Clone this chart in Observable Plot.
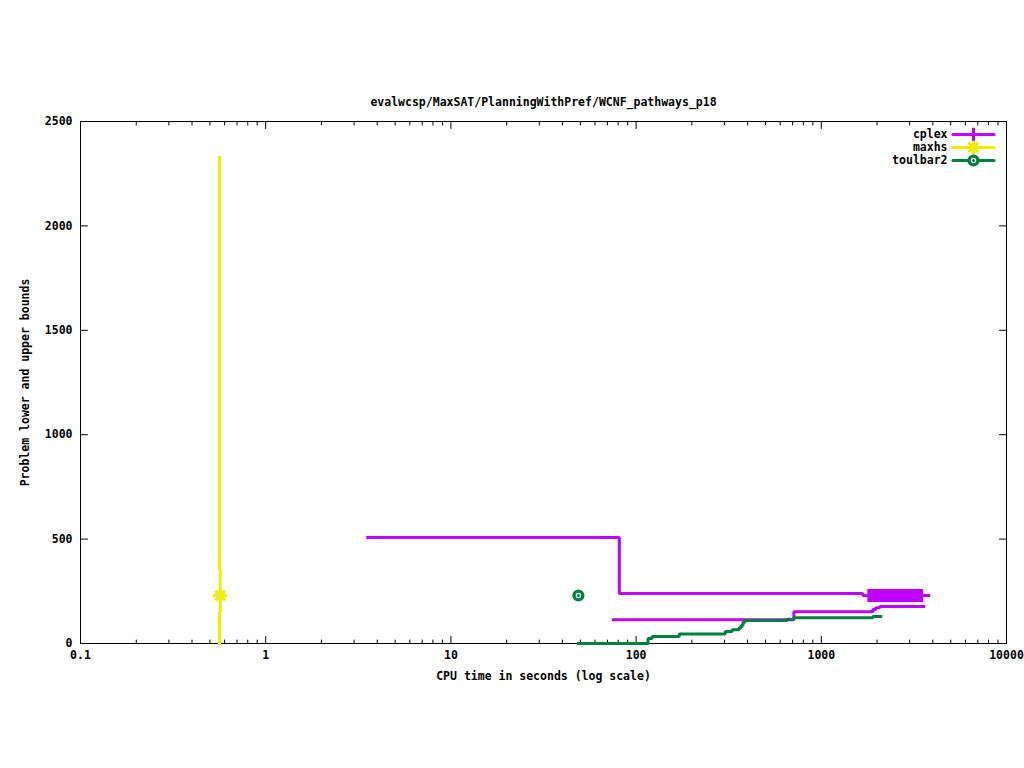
<!DOCTYPE html>
<html><head><meta charset="utf-8">
<script src="https://cdn.jsdelivr.net/npm/d3@7"></script>
<script src="https://cdn.jsdelivr.net/npm/@observablehq/plot@0.6"></script>
<style>body{margin:0;background:#fff}</style>
</head><body><div id="chart"></div>
<script>
const title = "evalwcsp/MaxSAT/PlanningWithPref/WCNF_pathways_p18";
const xLabel = "CPU time in seconds (log scale)";
const yLabel = "Problem lower and upper bounds";
const xTicks = [0.1, 1, 10, 100, 1000, 10000];
const xTickLabels = ["0.1", "1", "10", "100", "1000", "10000"];
const yTicks = [0, 500, 1000, 1500, 2000, 2500];
const yTickLabels = ["0", "500", "1000", "1500", "2000", "2500"];
const seriesNames = ["cplex", "maxhs", "toulbar2"];
const seriesColors = ["#c000ff", "#eeee00", "#008040"];
const seriesSymbols = ["plus", "star", "circle"];

// cplex
const cplexUpperTime = [3.56, 81.2, 1675, 3802];
const cplexUpperValue = [508, 240, 230, 230];
const cplexLowerTime = [75.4, 711, 1897, 1968, 2069, 3570];
const cplexLowerValue = [114, 152, 163, 171, 177, 177];
const cplexBlockTime = [1783, 3570];
const cplexBlockValue = [196, 259];
// maxhs
const maxhsUpperTime = [0.563, 0.563, 0.568];
const maxhsUpperValue = [2328, 350, 230];
const maxhsLowerTime = [0.563, 0.563, 0.568];
const maxhsLowerValue = [0, 148, 230];
const maxhsOptTime = [0.568];
const maxhsOptValue = [230];
// toulbar2
const toulbar2LowerTime = [48.8, 116, 122, 171, 303, 330, 360, 369, 378, 387, 653, 711, 1897, 2094];
const toulbar2LowerValue = [0, 24, 33, 46, 57, 66, 76, 86, 102, 110, 116, 123, 129, 129];
const toulbar2OptTime = [48.8];
const toulbar2OptValue = [230];

const zip = (t, v) => t.map((x, i) => ({t: x, v: v[i]}));

const minorX = [];
for (let e = -1; e < 4; e++) for (let k = 2; k <= 9; k++) minorX.push(k * Math.pow(10, e));

const tickShape = {draw(ctx, l) { ctx.moveTo(0, 0); ctx.lineTo(0, -l); }};
const tickMarks = (data, opts, len) => Plot.vector(data, {...opts, length: len, anchor: "start", shape: tickShape, stroke: "black", strokeWidth: 1});

const stepLine = (t, v, color) => Plot.line(zip(t, v), {x: "t", y: "v", curve: "step-after", stroke: color, strokeWidth: 3, strokeLinejoin: "miter", strokeLinecap: "square"});

const legendMarks = [];
seriesNames.forEach((n, i) => {
  const dy = 13 + 13 * i;
  legendMarks.push(Plot.text([n], {text: d => d, frameAnchor: "top-right", dx: -59, dy, textAnchor: "end", lineAnchor: "middle"}));
  legendMarks.push(Plot.vector([0], {frameAnchor: "top-right", dx: -33, dy, length: 41, rotate: 90, anchor: "middle", shape: tickShape, stroke: seriesColors[i], strokeWidth: 3}));
  if (seriesSymbols[i] === "plus") {
    legendMarks.push(Plot.dot([0], {frameAnchor: "top-right", dx: -33, dy, symbol: "plus", r: 4.5, stroke: seriesColors[i], strokeWidth: 3}));
  } else if (seriesSymbols[i] === "star") {
    legendMarks.push(Plot.dot([0], {frameAnchor: "top-right", dx: -33, dy, symbol: "plus", r: 4.5, stroke: seriesColors[i], strokeWidth: 3}));
    legendMarks.push(Plot.dot([0], {frameAnchor: "top-right", dx: -33, dy, symbol: "times", r: 4.5, stroke: seriesColors[i], strokeWidth: 3}));
  } else {
    legendMarks.push(Plot.dot([0], {frameAnchor: "top-right", dx: -33, dy, r: 4.4, fill: "white", stroke: seriesColors[i], strokeWidth: 3.4}));
    legendMarks.push(Plot.dot([0], {frameAnchor: "top-right", dx: -33, dy, r: 1.5, fill: seriesColors[i]}));
  }
});

const chart = Plot.plot({
  width: 1024,
  height: 768,
  marginLeft: 80,
  marginRight: 18,
  marginTop: 121,
  marginBottom: 125,
  style: "font: bold 11.5px 'DejaVu Sans Mono', monospace; background: white; overflow: visible;",
  x: {type: "log", domain: [0.1, 10000]},
  y: {domain: [0, 2500]},
  marks: [
    Plot.frame({stroke: "black"}),
    Plot.axisX(xTicks, {anchor: "bottom", tickSize: 0, tickPadding: 7, tickFormat: d => xTickLabels[xTicks.indexOf(d)], label: null, fill: "black"}),
    Plot.axisY(yTicks, {anchor: "left", tickSize: 0, tickPadding: 8, tickFormat: d => yTickLabels[yTicks.indexOf(d)], label: null, fill: "black"}),
    tickMarks(xTicks, {x: d => d, y: () => 0, rotate: 0}, 7),
    tickMarks(xTicks, {x: d => d, y: () => 2500, rotate: 180}, 7),
    tickMarks(minorX, {x: d => d, y: () => 0, rotate: 0}, 3.5),
    tickMarks(minorX, {x: d => d, y: () => 2500, rotate: 180}, 3.5),
    tickMarks(yTicks, {y: d => d, x: () => 0.1, rotate: 90}, 7),
    tickMarks(yTicks, {y: d => d, x: () => 10000, rotate: -90}, 7),
    Plot.text([title], {text: d => d, frameAnchor: "top", dy: -19, lineAnchor: "middle"}),
    Plot.text([xLabel], {text: d => d, frameAnchor: "bottom", dy: 33, lineAnchor: "middle"}),
    Plot.text([yLabel], {text: d => d, frameAnchor: "left", dx: -55, rotate: -90, textAnchor: "middle", lineAnchor: "middle"}),
    // cplex
    stepLine(cplexUpperTime, cplexUpperValue, seriesColors[0]),
    stepLine(cplexLowerTime, cplexLowerValue, seriesColors[0]),
    Plot.rect([0], {x1: () => cplexBlockTime[0], x2: () => cplexBlockTime[1], y1: () => cplexBlockValue[0], y2: () => cplexBlockValue[1], fill: seriesColors[0]}),
    // maxhs
    stepLine(maxhsUpperTime, maxhsUpperValue, seriesColors[1]),
    stepLine(maxhsLowerTime, maxhsLowerValue, seriesColors[1]),
    Plot.dot(zip(maxhsOptTime, maxhsOptValue), {x: "t", y: "v", symbol: "plus", r: 4.5, stroke: seriesColors[1], strokeWidth: 3}),
    Plot.dot(zip(maxhsOptTime, maxhsOptValue), {x: "t", y: "v", symbol: "times", r: 4.5, stroke: seriesColors[1], strokeWidth: 3}),
    // toulbar2
    stepLine(toulbar2LowerTime, toulbar2LowerValue, seriesColors[2]),
    Plot.dot(zip(toulbar2OptTime, toulbar2OptValue), {x: "t", y: "v", r: 4.4, fill: "white", stroke: seriesColors[2], strokeWidth: 3.4}),
    Plot.dot(zip(toulbar2OptTime, toulbar2OptValue), {x: "t", y: "v", r: 1.5, fill: seriesColors[2]}),
    ...legendMarks
  ]
});
document.getElementById("chart").appendChild(chart);
</script>
</body></html>
